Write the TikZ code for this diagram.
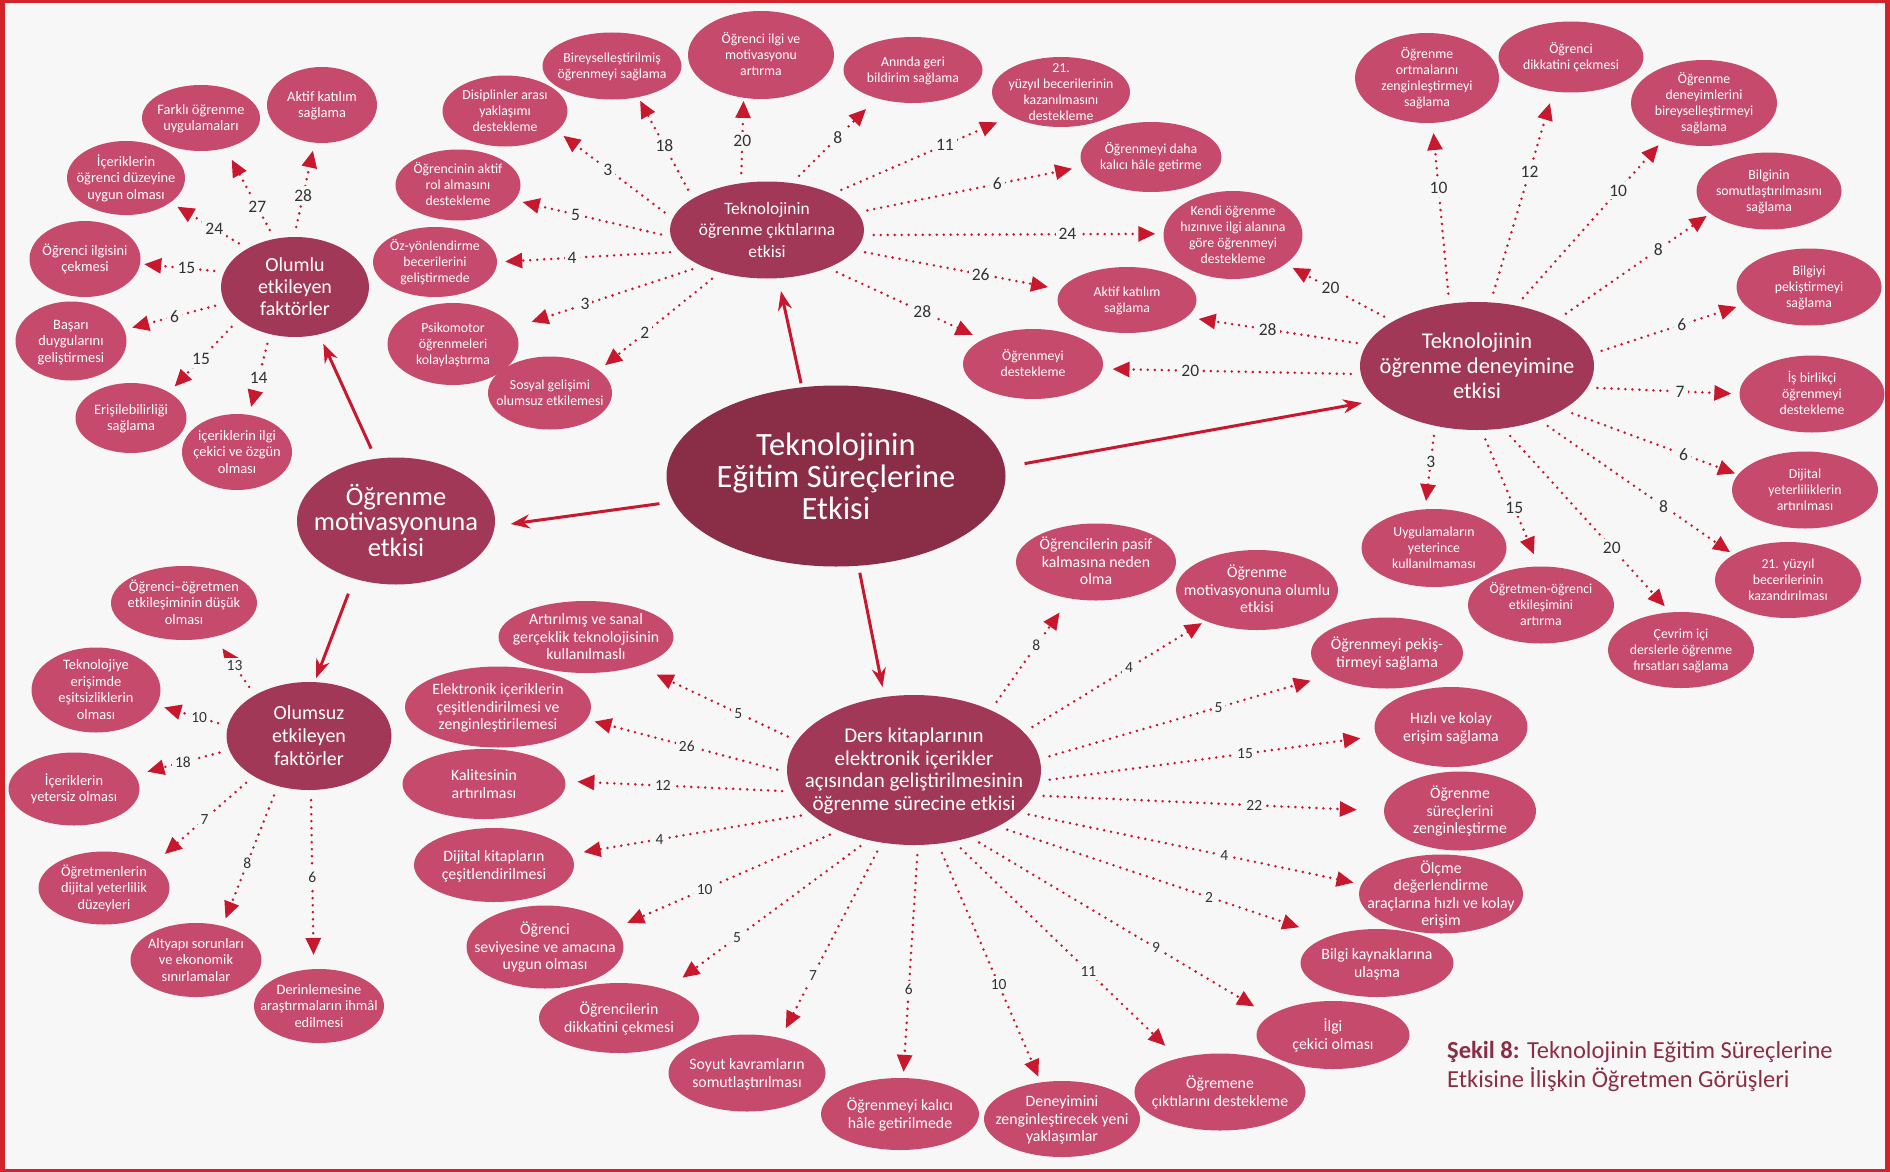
\documentclass[tikz,border=0pt]{standalone}
\usepackage{fontspec}
\setmainfont{Carlito}
\usetikzlibrary{shapes.geometric,arrows.meta}
\definecolor{zemin}{HTML}{F7F7F7}
\definecolor{cerceve}{HTML}{D2232A}
\definecolor{koyu}{HTML}{8A2E47}
\definecolor{orta}{HTML}{A23858}
\definecolor{acik}{HTML}{C54A6C}
\definecolor{okkirmizi}{HTML}{C8182E}
\definecolor{sayi}{HTML}{333333}
\newcommand{\elltext}[1]{\smash{\makebox[0pt]{\raisebox{-.34em}{\begin{tabular}{@{}c@{}}#1\end{tabular}}}}}

\begin{document}
\begin{tikzpicture}[x=1pt,y=-1pt,
  ana/.style={ellipse,fill=koyu,text=white,inner sep=0pt},
  hub/.style={ellipse,fill=orta,text=white,inner sep=0pt},
  leaf/.style={ellipse,fill=acik,text=white,inner sep=0pt,font=\fontsize{13.8}{16}\selectfont},
  leafm/.style={leaf,font=\fontsize{14.4}{16.5}\selectfont},
  leafb/.style={leaf,font=\fontsize{15.8}{17.5}\selectfont},
  etiket/.style={fill=zemin,inner sep=3pt,text=sayi,font=\fontsize{17.5}{17.5}\selectfont},
  etiketk/.style={etiket,font=\fontsize{15.5}{15.5}\selectfont},
  noktali/.style={draw=okkirmizi,line width=2.8pt,line cap=round,dash pattern=on 0pt off 7pt,shorten <=10pt,shorten >=8pt,-{Triangle[length=17pt,width=15pt]}},
  anaok/.style={draw=okkirmizi,line width=3pt,-{Stealth[length=19pt,width=14pt]}}]

\useasboundingbox (0,0) rectangle (1890,1172);
\fill[zemin] (0,0) rectangle (1890,1172);
\fill[cerceve] (0,0) rectangle (1890,3);
\fill[cerceve] (0,0) rectangle (5,1172);
\fill[cerceve] (1885,0) rectangle (1890,1172);
\fill[cerceve] (0,1169) rectangle (1890,1172);

\node[ana,minimum width=339pt,minimum height=181pt,font=\fontsize{32.5}{31}\selectfont] (merkez) at (836,476) {\elltext{Teknolojinin\\Eğitim Süreçlerine\\Etkisi}};
\node[hub,minimum width=194pt,minimum height=97pt,font=\fontsize{17.4}{21.7}\selectfont] (ciktilar) at (767,230) {\elltext{Teknolojinin\\öğrenme çıktılarına\\etkisi}};
\node[hub,minimum width=234pt,minimum height=128pt,font=\fontsize{22.5}{25}\selectfont] (deneyim) at (1477,366) {\elltext{Teknolojinin\\öğrenme deneyimine\\etkisi}};
\node[hub,minimum width=198pt,minimum height=127pt,font=\fontsize{26.5}{24}\selectfont] (motivasyon) at (396,521) {\elltext{Öğrenme\\motivasyonuna\\etkisi}};
\node[hub,minimum width=148pt,minimum height=100pt,font=\fontsize{20}{22}\selectfont] (olumlu) at (295,287) {\elltext{Olumlu\\etkileyen\\faktörler}};
\node[hub,minimum width=165pt,minimum height=108pt,font=\fontsize{20}{23}\selectfont] (olumsuz) at (309,736) {\elltext{Olumsuz\\etkileyen\\faktörler}};
\node[hub,minimum width=254pt,minimum height=150pt,font=\fontsize{21}{22.7}\selectfont] (kitap) at (914,770) {\elltext{Ders kitaplarının\\elektronik içerikler\\açısından geliştirilmesinin\\öğrenme sürecine etkisi}};

\node[leafm,minimum width=118pt,minimum height=66pt] (ol1) at (201,118) {\elltext{Farklı öğrenme\\uygulamaları}};
\node[leafm,minimum width=110pt,minimum height=76pt] (ol2) at (322,105) {\elltext{Aktif katılım\\sağlama}};
\node[leafm,minimum width=118pt,minimum height=74pt] (ol3) at (126,178) {\elltext{İçeriklerin\\öğrenci düzeyine\\uygun olması}};
\node[leafm,minimum width=111pt,minimum height=76pt] (ol4) at (85,259) {\elltext{Öğrenci ilgisini\\çekmesi}};
\node[leafm,minimum width=111pt,minimum height=79pt] (ol5) at (71,341) {\elltext{Başarı\\duygularını\\geliştirmesi}};
\node[leafm,minimum width=111pt,minimum height=70pt] (ol6) at (131,418) {\elltext{Erişilebilirliği\\sağlama}};
\node[leafm,minimum width=110pt,minimum height=76pt] (ol7) at (237,452) {\elltext{içeriklerin ilgi\\çekici ve özgün\\olması}};

\node[leaf,minimum width=139pt,minimum height=67pt] (ck1) at (612,66) {\elltext{Bireyselleştirilmiş\\öğrenmeyi sağlama}};
\node[leaf,minimum width=146pt,minimum height=88pt] (ck2) at (761,55) {\elltext{Öğrenci ilgi ve\\motivasyonu\\artırma}};
\node[leaf,minimum width=125pt,minimum height=71pt] (ck3) at (505,111) {\elltext{Disiplinler arası\\yaklaşımı\\destekleme}};
\node[leaf,minimum width=125pt,minimum height=71pt] (ck4) at (458,185) {\elltext{Öğrencinin aktif\\rol almasını\\destekleme}};
\node[leaf,minimum width=124pt,minimum height=70pt] (ck5) at (435,262) {\elltext{Öz-yönlendirme\\becerilerini\\geliştirmede}};
\node[leaf,minimum width=131pt,minimum height=82pt] (ck6) at (453,344) {\elltext{Psikomotor\\öğrenmeleri\\kolaylaştırma}};
\node[leaf,minimum width=124pt,minimum height=73pt] (ck7) at (550,393) {\elltext{Sosyal gelişimi\\olumsuz etkilemesi}};
\node[leaf,minimum width=139pt,minimum height=66pt] (ck8) at (913,70) {\elltext{Anında geri\\bildirim sağlama}};
\node[leaf,minimum width=138pt,minimum height=70pt] (ck9) at (1061,92) {\elltext{21.\\yüzyıl becerilerinin\\kazanılmasını\\destekleme}};
\node[leaf,minimum width=141pt,minimum height=70pt] (ck10) at (1151,157) {\elltext{Öğrenmeyi daha\\kalıcı hâle getirme}};
\node[leaf,minimum width=139pt,minimum height=88pt] (ort1) at (1233,235) {\elltext{Kendi öğrenme\\hızınıve ilgi alanına\\göre öğrenmeyi\\destekleme}};
\node[leaf,minimum width=139pt,minimum height=66pt] (ort2) at (1127,300) {\elltext{Aktif katılım\\sağlama}};
\node[leaf,minimum width=140pt,minimum height=70pt] (ort3) at (1033,364) {\elltext{Öğrenmeyi\\destekleme}};

\node[leaf,minimum width=144pt,minimum height=90pt] (dn1) at (1427,78) {\elltext{Öğrenme\\ortmalarını\\zenginleştirmeyi\\sağlama}};
\node[leaf,minimum width=145pt,minimum height=71pt] (dn2) at (1571,57) {\elltext{Öğrenci\\dikkatini çekmesi}};
\node[leaf,minimum width=146pt,minimum height=86pt] (dn3) at (1704,103) {\elltext{Öğrenme\\deneyimlerini\\bireyselleştirmeyi\\sağlama}};
\node[leaf,minimum width=145pt,minimum height=77pt] (dn4) at (1769,191) {\elltext{Bilginin\\somutlaştırılmasını\\sağlama}};
\node[leaf,minimum width=145pt,minimum height=77pt] (dn5) at (1809,287) {\elltext{Bilgiyi\\pekiştirmeyi\\sağlama}};
\node[leaf,minimum width=145pt,minimum height=77pt] (dn6) at (1812,394) {\elltext{İş birlikçi\\öğrenmeyi\\destekleme}};
\node[leaf,minimum width=146pt,minimum height=77pt] (dn7) at (1805,490) {\elltext{Dijital\\yeterliliklerin\\artırılması}};
\node[leaf,minimum width=146pt,minimum height=76pt] (dn8) at (1788,580) {\elltext{21. yüzyıl\\becerilerinin\\kazandırılması}};
\node[leaf,minimum width=146pt,minimum height=76pt] (dn9) at (1681,650) {\elltext{Çevrim içi\\derslerle öğrenme\\fırsatları sağlama}};
\node[leaf,minimum width=146pt,minimum height=77pt] (dn10) at (1541,605) {\elltext{Öğretmen-öğrenci\\etkileşimini\\artırma}};
\node[leaf,minimum width=145pt,minimum height=78pt] (dn11) at (1434,548) {\elltext{Uygulamaların\\yeterince\\kullanılmaması}};

\node[leafb,minimum width=160pt,minimum height=77pt] (kt1) at (1096,562) {\elltext{Öğrencilerin pasif\\kalmasına neden\\olma}};
\node[leafb,minimum width=162pt,minimum height=80pt] (kt2) at (1257,590) {\elltext{Öğrenme\\motivasyonuna olumlu\\etkisi}};
\node[leafb,minimum width=152pt,minimum height=71pt] (kt3) at (1387,653) {\elltext{Öğrenmeyi pekiş-\\tirmeyi sağlama}};
\node[leafb,minimum width=153pt,minimum height=80pt] (kt4) at (1451,727) {\elltext{Hızlı ve kolay\\erişim sağlama}};
\node[leafb,minimum width=152pt,minimum height=79pt] (kt5) at (1460,811) {\elltext{Öğrenme\\süreçlerini\\zenginleştirme}};
\node[leafb,minimum width=164pt,minimum height=79pt] (kt6) at (1441,894) {\elltext{Ölçme\\değerlendirme\\araçlarına hızlı ve kolay\\erişim}};
\node[leafb,minimum width=153pt,minimum height=68pt] (kt7) at (1377,963) {\elltext{Bilgi kaynaklarına\\ulaşma}};
\node[leafb,minimum width=153pt,minimum height=68pt] (kt8) at (1333,1035) {\elltext{İlgi\\çekici olması}};
\node[leafb,minimum width=171pt,minimum height=77pt] (kt9) at (1220,1092) {\elltext{Öğremene\\çıktılarını destekleme}};
\node[leafb,minimum width=156pt,minimum height=76pt] (kt10) at (1062,1119) {\elltext{Deneyimini\\zenginleştirecek yeni\\yaklaşımlar}};
\node[leafb,minimum width=158pt,minimum height=72pt] (kt11) at (900,1114) {\elltext{Öğrenmeyi kalıcı\\hâle getirilmede}};
\node[leafb,minimum width=157pt,minimum height=77pt] (kt12) at (747,1073) {\elltext{Soyut kavramların\\somutlaştırılması}};
\node[leafb,minimum width=160pt,minimum height=70pt] (kt13) at (619,1018) {\elltext{Öğrencilerin\\dikkatini çekmesi}};
\node[leafb,minimum width=157pt,minimum height=83pt] (kt14) at (545,947) {\elltext{Öğrenci\\seviyesine ve amacına\\uygun olması}};
\node[leafb,minimum width=160pt,minimum height=74pt] (kt15) at (494,865) {\elltext{Dijital kitapların\\çeşitlendirilmesi}};
\node[leafb,minimum width=163pt,minimum height=70pt] (kt16) at (484,784) {\elltext{Kalitesinin\\artırılması}};
\node[leafb,minimum width=186pt,minimum height=81pt] (kt17) at (498,707) {\elltext{Elektronik içeriklerin\\çeşitlendirilmesi ve\\zenginleştirilemesi}};
\node[leafb,minimum width=175pt,minimum height=72pt] (kt18) at (586,637) {\elltext{Artırılmış ve sanal\\gerçeklik teknolojisinin\\kullanılmaslı}};

\node[leafm,minimum width=146pt,minimum height=74pt] (os1) at (184,603) {\elltext{Öğrenci–öğretmen\\etkileşiminin düşük\\olması}};
\node[leafm,minimum width=129pt,minimum height=85pt] (os2) at (96,690) {\elltext{Teknolojiye\\erişimde\\eşitsizliklerin\\olması}};
\node[leafm,minimum width=131pt,minimum height=73pt] (os3) at (74,789) {\elltext{İçeriklerin\\yetersiz olması}};
\node[leafm,minimum width=131pt,minimum height=73pt] (os4) at (104,888) {\elltext{Öğretmenlerin\\dijital yeterlilik\\düzeyleri}};
\node[leafm,minimum width=131pt,minimum height=74pt] (os5) at (196,960) {\elltext{Altyapı sorunları\\ve ekonomik\\sınırlamalar}};
\node[leafm,minimum width=130pt,minimum height=74pt] (os6) at (319,1006) {\elltext{Derinlemesine\\araştırmaların ihmâl\\edilmesi}};

\draw[anaok,shorten <=4pt,shorten >=13pt] (merkez.111) -- (ciktilar.-77);
\draw[anaok,shorten <=20pt,shorten >=16pt] (merkez.3) -- (deneyim.-161);
\draw[anaok,shorten <=14pt,shorten >=16pt] (merkez.189) -- (motivasyon.-3.5);
\draw[anaok,shorten <=7pt,shorten >=10pt] (merkez.-76) -- (kitap.112);
\draw[anaok,shorten <=11pt,shorten >=10pt] (motivasyon.108) -- (olumlu.-63);
\draw[anaok,shorten <=16pt,shorten >=4pt] (motivasyon.234) -- (olumsuz.84);

\draw[noktali,shorten >=13pt] (olumlu.113) -- node[etiket,pos=.35]{27} (ol1.-51);
\draw[noktali] (olumlu.91) -- node[etiket,pos=.44]{28} (ol2.-101);
\draw[noktali] (olumlu.141) -- node[etiket,pos=.43]{24} (ol3.-29);
\draw[noktali,shorten >=4pt] (olumlu.168) -- node[etiket,pos=.45]{15} (ol4.-5);
\draw[noktali] (olumlu.193) -- node[etiket,pos=.5]{6} (ol5.12);
\draw[noktali] (olumlu.210) -- node[etiket,pos=.54]{15} (ol6.34);
\draw[noktali] (olumlu.242) -- node[etiket,pos=.54]{14} (ol7.72);

\draw[noktali,shorten >=4pt] (ciktilar.157) -- node[etiket,pos=.52]{18} (ck1.-50);
\draw[noktali,shorten >=3pt] (ciktilar.119) -- node[etiket,pos=.5]{20} (ck2.-112);
\draw[noktali] (ciktilar.173) -- node[etiket,pos=.56]{3} (ck3.-21);
\draw[noktali] (ciktilar.184) -- node[etiket,pos=.61]{5} (ck4.-15);
\draw[noktali] (ciktilar.194) -- node[etiket,pos=.59]{4} (ck5.0);
\draw[noktali,shorten >=19pt] (ciktilar.209) -- node[etiket,pos=.62]{3} (ck6.15);
\draw[noktali] (ciktilar.222) -- node[etiket,pos=.62]{2} (ck7.25);
\draw[noktali,shorten >=15pt] (ciktilar.62) -- node[etiket,pos=.54]{8} (ck8.-142);
\draw[noktali,shorten >=15pt] (ciktilar.29) -- node[etiket,pos=.63]{11} (ck9.-154);
\draw[noktali,shorten >=11pt] (ciktilar.11) -- node[etiket,pos=.62]{6} (ck10.-172);
\draw[noktali] (ciktilar.-3) -- node[etiket,pos=.68]{24} (ort1.179);
\draw[noktali,shorten >=13pt] (ciktilar.-13) -- node[etiket,pos=.61]{26} (ort2.171);
\draw[noktali,shorten >=11pt] (ciktilar.-32) -- node[etiket,pos=.61]{28} (ort3.154);

\draw[noktali] (deneyim.152) -- node[etiket,pos=.58]{20} (ort1.-29);
\draw[noktali,shorten >=12pt] (deneyim.169) -- node[etiket,pos=.55]{28} (ort2.-16);
\draw[noktali,shorten >=10pt] (deneyim.184) -- node[etiket,pos=.66]{20} (ort3.-4);
\draw[noktali,shorten >=10pt] (deneyim.114) -- node[etiket,pos=.64]{10} (dn1.-83);
\draw[noktali,shorten >=12pt] (deneyim.78) -- node[etiket,pos=.62]{12} (dn2.-117);
\draw[noktali] (deneyim.57) -- node[etiket,pos=.69]{10} (dn3.-138);
\draw[noktali,shorten >=4pt] (deneyim.30) -- node[etiket,pos=.66]{8} (dn4.-159);
\draw[noktali] (deneyim.6) -- node[etiket,pos=.59]{6} (dn5.-165);
\draw[noktali] (deneyim.-11) -- node[etiket,pos=.61]{7} (dn6.180);
\draw[noktali,shorten >=3pt] (deneyim.-27) -- node[etiket,pos=.69]{6} (dn7.167);
\draw[noktali,shorten >=4pt] (deneyim.-41) -- node[etiket,pos=.64]{8} (dn8.155);
\draw[noktali] (deneyim.-67) -- node[etiket,pos=.65]{20} (dn9.106);
\draw[noktali,shorten >=13pt] (deneyim.-86) -- node[etiket,pos=.57]{15} (dn10.93);
\draw[noktali] (deneyim.235) -- node[etiket,pos=.43]{3} (dn11.103);

\draw[noktali,shorten >=17pt] (kitap.38) -- node[etiketk,pos=.58]{8} (kt1.-126);
\draw[noktali,shorten >=4pt] (kitap.19) -- node[etiketk,pos=.58]{4} (kt2.-149);
\draw[noktali,shorten >=18pt] (kitap.5) -- node[etiketk,pos=.62]{5} (kt3.-159);
\draw[noktali,shorten >=16pt] (kitap.-5) -- node[etiketk,pos=.61]{15} (kt4.-173);
\draw[noktali,shorten >=27pt] (kitap.-12) -- node[etiketk,pos=.63]{22} (kt5.180);
\draw[noktali] (kitap.-22) -- node[etiketk,pos=.6]{4} (kt6.173);
\draw[noktali,shorten >=30pt] (kitap.-34) -- node[etiketk,pos=.64]{2} (kt7.152);
\draw[noktali,shorten >=18pt] (kitap.-50) -- node[etiketk,pos=.62]{9} (kt8.163);
\draw[noktali,shorten >=18pt] (kitap.-61) -- node[etiketk,pos=.6]{11} (kt9.141);
\draw[noktali,shorten >=6pt] (kitap.-72) -- node[etiketk,pos=.59]{10} (kt10.120);
\draw[noktali,shorten >=6pt] (kitap.-87) -- node[etiketk,pos=.62]{6} (kt11.85);
\draw[noktali,shorten >=11pt] (kitap.246) -- node[etiketk,pos=.68]{7} (kt12.46);
\draw[noktali,shorten >=20pt] (kitap.237) -- node[etiketk,pos=.65]{5} (kt13.31);
\draw[noktali,shorten >=13pt] (kitap.219) -- node[etiketk,pos=.6]{10} (kt14.15);
\draw[noktali,shorten >=13pt] (kitap.203) -- node[etiketk,pos=.63]{4} (kt15.8);
\draw[noktali,shorten >=12pt] (kitap.190) -- node[etiketk,pos=.57]{12} (kt16.2);
\draw[noktali] (kitap.181) -- node[etiketk,pos=.5]{26} (kt17.-8);
\draw[noktali,shorten >=20pt] (kitap.166) -- node[etiketk,pos=.37]{5} (kt18.-29);

\draw[noktali,shorten >=14pt] (olumsuz.143) -- node[etiketk,pos=.5]{13} (os1.-48);
\draw[noktali] (olumsuz.173) -- node[etiketk,pos=.4]{10} (os2.-14);
\draw[noktali,shorten >=13pt] (olumsuz.190) -- node[etiketk,pos=.49]{18} (os3.13);
\draw[noktali,shorten >=15pt] (olumsuz.216) -- node[etiketk,pos=.49]{7} (os4.26);
\draw[noktali] (olumsuz.238) -- node[etiketk,pos=.55]{8} (os5.52);
\draw[noktali,shorten >=14pt] (olumsuz.-88) -- node[etiketk,pos=.49]{6} (os6.98);

\node[anchor=north west,align=left,inner sep=0pt,text=koyu,font=\fontsize{24.5}{29}\selectfont] (baslik) at (1447,1041) {\textbf{Şekil 8:} Teknolojinin Eğitim Süreçlerine\\Etkisine İlişkin Öğretmen Görüşleri};

\end{tikzpicture}
\end{document}
